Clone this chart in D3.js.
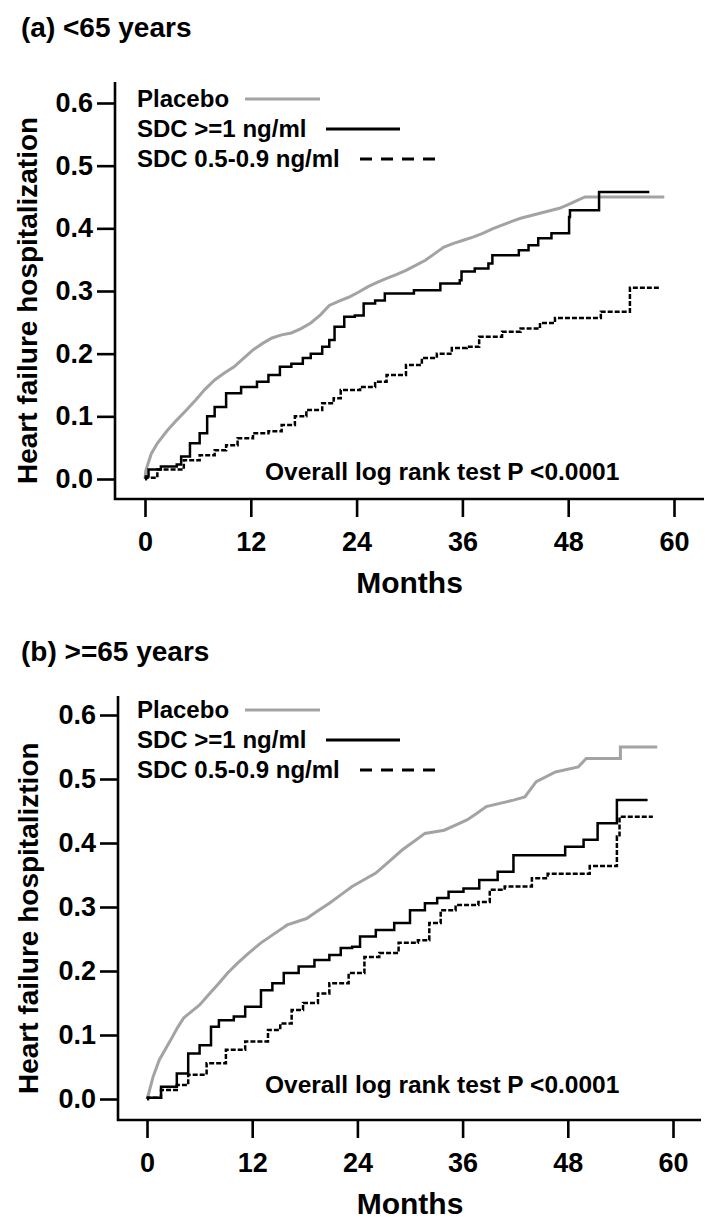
<!DOCTYPE html>
<html>
<head>
<meta charset="utf-8">
<script src="https://cdn.jsdelivr.net/npm/d3@7/dist/d3.min.js"></script>
<style>
  html, body { margin: 0; padding: 0; background: #fff; }
  svg { display: block; }
  text { font-family: "Liberation Sans", Arial, sans-serif; font-weight: bold; fill: #000; }
</style>
</head>
<body>
<svg id="chart" width="714" height="1228"></svg>
<script>
// ---------- DATA ----------
const xTicks = [0, 12, 24, 36, 48, 60];
const yTicks = [0.0, 0.1, 0.2, 0.3, 0.4, 0.5, 0.6];
const seriesNames = ["Placebo", "SDC >=1 ng/ml", "SDC 0.5-0.9 ng/ml"];

// Panel (a) <65 years : [month, cumulative HF hospitalization]
const placeboA = [[0,0],[0.1,0.014],[0.7,0.04],[1.4,0.057],[2.5,0.077],[3.6,0.094],[4.7,0.11],[5.75,0.126],[6.8,0.143],[7.9,0.158],[9,0.169],[10.1,0.179],[11.2,0.193],[12.25,0.206],[13.3,0.216],[14.4,0.225],[15.5,0.23],[16.6,0.233],[17.7,0.24],[18.8,0.249],[19.9,0.262],[20.9,0.277],[22,0.284],[23.1,0.29],[24.2,0.298],[25.3,0.307],[26.4,0.314],[27.4,0.32],[28.5,0.326],[29.6,0.333],[30.7,0.341],[31.8,0.349],[32.9,0.36],[33.9,0.37],[35,0.376],[36.1,0.381],[37.2,0.386],[38.3,0.392],[39.4,0.399],[40.5,0.405],[41.6,0.411],[42.6,0.416],[43.7,0.42],[44.8,0.424],[45.9,0.428],[47,0.432],[48,0.438],[49.1,0.445],[49.9,0.45],[58.9,0.45]];
const sdcHighA = [[0,0],[0.1,0.004],[0.4,0.015],[1.8,0.02],[3.6,0.023],[4.1,0.036],[5.1,0.057],[6.2,0.073],[7.05,0.1],[7.9,0.115],[9.2,0.137],[10.9,0.147],[12.7,0.155],[14,0.166],[15.3,0.179],[16.6,0.184],[17.9,0.193],[18.8,0.2],[20.1,0.211],[20.9,0.222],[21.5,0.243],[22.6,0.259],[23.8,0.261],[24.8,0.28],[26.1,0.285],[27.2,0.296],[30.5,0.301],[33.5,0.312],[35.7,0.317],[35.9,0.331],[37.4,0.336],[38.95,0.344],[39.4,0.357],[42.4,0.365],[43.5,0.373],[44.6,0.384],[46.1,0.392],[48.1,0.418],[48.2,0.429],[51.5,0.458],[57.2,0.458]];
const sdcMidA = [[0,0],[0.1,0.002],[1.4,0.015],[4.4,0.03],[6.2,0.038],[7.9,0.046],[9.2,0.054],[10.5,0.065],[12.25,0.073],[14,0.076],[15.5,0.086],[17,0.1],[18.3,0.11],[20.1,0.121],[21.4,0.129],[22.2,0.142],[24.4,0.147],[26.1,0.155],[27.4,0.166],[29.6,0.182],[31.4,0.193],[33.1,0.2],[34.8,0.209],[36.5,0.211],[37.9,0.227],[40.5,0.235],[42.6,0.24],[44.8,0.249],[46.5,0.257],[51.7,0.267],[55.0,0.305],[58.3,0.305]];

// Panel (b) >=65 years
const placeboB = [[0,0],[0.1,0.004],[0.7,0.035],[1.4,0.061],[2.7,0.092],[3.5,0.112],[4.2,0.127],[5.1,0.137],[6.0,0.147],[7.1,0.164],[8.2,0.181],[9.2,0.197],[10.3,0.212],[11.6,0.228],[13.0,0.244],[14.5,0.258],[16.0,0.272],[18.2,0.282],[19.5,0.294],[20.8,0.306],[22.1,0.319],[23.4,0.332],[24.8,0.343],[26.1,0.353],[27.6,0.371],[29.1,0.389],[30.4,0.402],[31.7,0.415],[33.9,0.42],[35.2,0.428],[36.5,0.436],[37.6,0.446],[38.7,0.457],[41.8,0.467],[43.1,0.472],[44.4,0.496],[46.6,0.511],[49.2,0.519],[50.1,0.532],[54.0,0.532],[54.0,0.55],[58.2,0.55]];
const sdcHighB = [[0,0],[0.1,0.002],[1.6,0.019],[3.4,0.04],[4.7,0.071],[6.0,0.084],[7.3,0.113],[8.2,0.123],[9.9,0.129],[11.2,0.144],[13.0,0.17],[14.3,0.181],[15.6,0.197],[17.3,0.207],[19.1,0.217],[20.8,0.225],[22.1,0.236],[23.4,0.238],[24.3,0.254],[26.1,0.264],[28.2,0.275],[30.0,0.295],[31.7,0.306],[33.1,0.314],[34.4,0.324],[36.1,0.329],[37.9,0.342],[40.0,0.355],[41.8,0.381],[47.7,0.394],[49.8,0.405],[51.4,0.431],[53.6,0.467],[57.1,0.467]];
const sdcMidB = [[0,0],[0.1,0.002],[1.6,0.014],[3.4,0.022],[4.7,0.038],[6.8,0.056],[9.0,0.077],[11.2,0.09],[13.8,0.108],[15.2,0.118],[16.5,0.139],[17.8,0.15],[19.5,0.165],[20.8,0.181],[23.0,0.197],[24.8,0.222],[26.5,0.228],[28.7,0.244],[30.9,0.248],[32.2,0.275],[33.5,0.295],[35.2,0.303],[37.8,0.308],[39.1,0.327],[40.8,0.332],[43.9,0.345],[45.7,0.352],[50.5,0.364],[53.6,0.41],[53.9,0.441],[57.7,0.441]];

// ---------- DRAWING ----------
const svg = d3.select("#chart");

const panels = [
  { title: "(a) <65 years", ylabel: "Heart failure hospitalization",
    series: [placeboA, sdcHighA, sdcMidA],
    x0: 145, x60: 674, y0: 479, y6: 103, axisX: 115, axisY: 499, axisTop: 82, axisRight: 704,
    titleY: 37, ylabX: 37, ylabY: 484, legY: 107, noteY: 480 },
  { title: "(b) >=65 years", ylabel: "Heart failure hospitaliztion",
    series: [placeboB, sdcHighB, sdcMidB],
    x0: 147, x60: 673, y0: 1099, y6: 715, axisX: 118, axisY: 1120, axisTop: 696, axisRight: 701,
    titleY: 661, ylabX: 38, ylabY: 1094, legY: 718, noteY: 1093 }
];

const styles = [
  { color: "#a3a3a3", width: 3, dash: null, curve: d3.curveLinear },
  { color: "#000", width: 2.5, dash: null, curve: d3.curveStepAfter },
  { color: "#000", width: 2.5, dash: "5,2", curve: d3.curveStepAfter }
];

panels.forEach(p => {
  const x = d3.scaleLinear().domain([0, 60]).range([p.x0, p.x60]);
  const y = d3.scaleLinear().domain([0, 0.6]).range([p.y0, p.y6]);
  const g = svg.append("g");

  // title
  g.append("text").attr("x", 21).attr("y", p.titleY)
    .attr("font-size", 28).text(p.title);

  // axis frame
  g.append("path")
    .attr("d", `M${p.axisX},${p.axisTop}V${p.axisY}H${p.axisRight}`)
    .attr("fill", "none").attr("stroke", "#000").attr("stroke-width", 2.6);

  // y axis ticks
  const ya = g.append("g").attr("transform", `translate(${p.axisX},0)`)
    .call(d3.axisLeft(y).tickValues(yTicks).tickFormat(d3.format(".1f"))
      .tickSize(18).tickSizeOuter(0).tickPadding(4));
  ya.select(".domain").remove();
  ya.selectAll("line").attr("stroke", "#000").attr("stroke-width", 2.6);
  ya.selectAll("text").attr("font-size", 27).attr("font-family", "Liberation Sans, Arial, sans-serif")
    .attr("font-weight", "bold").attr("fill", "#000");

  // x axis ticks
  const xa = g.append("g").attr("transform", `translate(0,${p.axisY})`)
    .call(d3.axisBottom(x).tickValues(xTicks).tickFormat(d3.format("d"))
      .tickSize(18).tickSizeOuter(0).tickPadding(15));
  xa.select(".domain").remove();
  xa.selectAll("line").attr("stroke", "#000").attr("stroke-width", 2.6);
  xa.selectAll("text").attr("font-size", 27).attr("font-family", "Liberation Sans, Arial, sans-serif")
    .attr("font-weight", "bold").attr("fill", "#000");

  // axis titles
  g.append("text").attr("x", (p.x0 + p.x60) / 2).attr("y", p.axisY + 94)
    .attr("text-anchor", "middle").attr("font-size", 30).text("Months");
  g.append("text")
    .attr("transform", `translate(${p.ylabX},${p.ylabY}) rotate(-90)`)
    .attr("font-size", 28).text(p.ylabel);

  // curves
  p.series.forEach((data, i) => {
    const s = styles[i];
    const line = d3.line().x(d => x(d[0])).y(d => y(d[1])).curve(s.curve);
    g.append("path").datum(data)
      .attr("d", line)
      .attr("fill", "none")
      .attr("stroke", s.color)
      .attr("stroke-width", s.width)
      .attr("stroke-dasharray", s.dash);
  });

  // legend
  const legLines = [[245, 320], [326, 400], [360, 435]];
  seriesNames.forEach((name, i) => {
    const by = p.legY + i * 30;
    g.append("text").attr("x", 137).attr("y", by).attr("font-size", 24).text(name);
    const s = styles[i];
    g.append("line")
      .attr("x1", legLines[i][0]).attr("x2", legLines[i][1])
      .attr("y1", by - 8).attr("y2", by - 8)
      .attr("stroke", s.color).attr("stroke-width", 2.8)
      .attr("stroke-dasharray", i === 2 ? "12,9" : null);
  });

  // note
  g.append("text").attr("x", 265).attr("y", p.noteY)
    .attr("font-size", 24.5).text("Overall log rank test P <0.0001");
});
</script>
</body>
</html>
